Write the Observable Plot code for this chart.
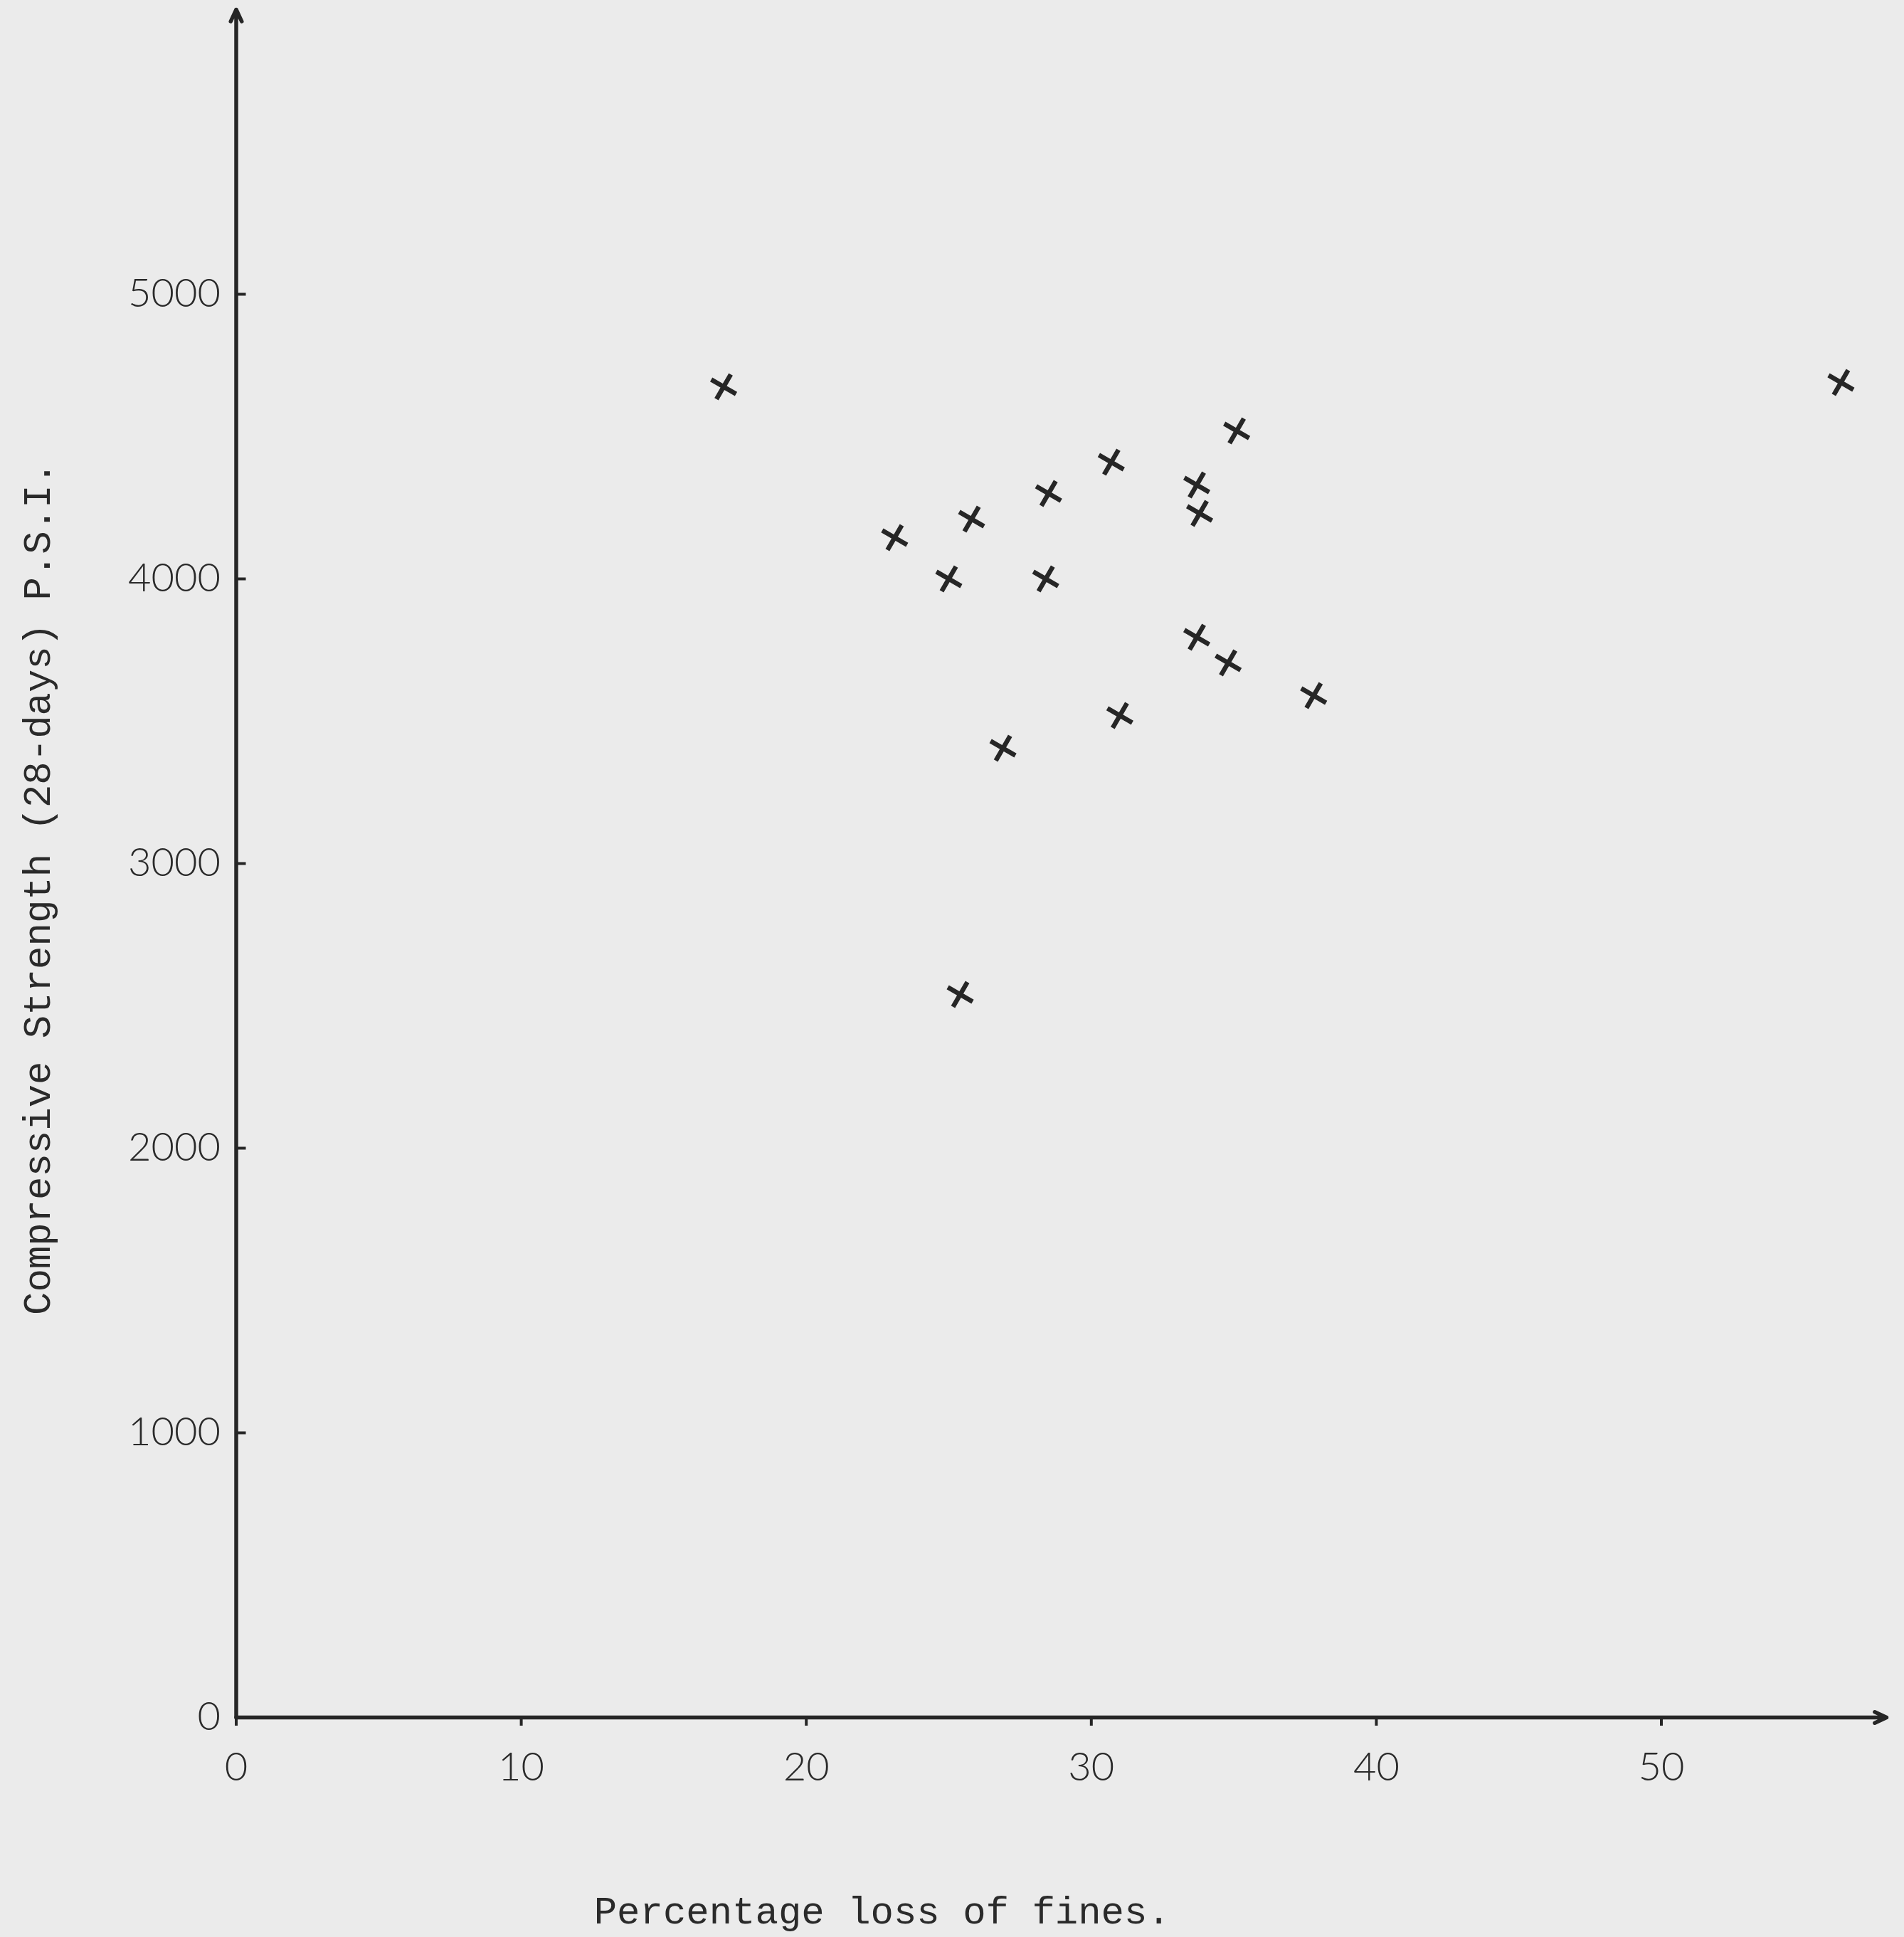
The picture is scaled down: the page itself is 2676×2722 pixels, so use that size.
<!DOCTYPE html>
<html>
<head>
<meta charset="utf-8">
<script src="https://cdn.jsdelivr.net/npm/d3@7"></script>
<script src="https://cdn.jsdelivr.net/npm/@observablehq/plot@0.6"></script>
<style>
  html, body { margin: 0; padding: 0; background: #ebebeb; }
  #chart svg { display: block; }
</style>
</head>
<body>
<div id="chart"></div>
<script>
// Data
const lossOfFines = [17.1, 56.3, 35.1, 30.7, 33.7, 28.5, 33.8, 25.8, 23.1, 25.0, 28.4, 33.7, 34.8, 37.8, 31.0, 26.9, 25.4];
const strength    = [4675, 4690, 4520, 4410, 4330, 4300, 4230, 4210, 4145, 4000, 4000, 3795, 3705, 3590, 3520, 3405, 2540];
const xTicks = [0, 10, 20, 30, 40, 50];
const yTicks = [0, 1000, 2000, 3000, 4000, 5000];
const xMax = 57.9;
const yMax = 6000;
const xTitle = "Percentage loss of fines.";
const yTitle = "Compressive Strength (28-days) P.S.I.";

const points = lossOfFines.map((x, i) => ({x, y: strength[i]}));
const axes = [
  {x1: 0, y1: 0, x2: 0, y2: yMax},
  {x1: 0, y1: 0, x2: xMax, y2: 0}
];

const ink = "#262626";
const tickFont = "Lato, 'Noto Sans', sans-serif";
const typeFont = "'Liberation Mono', 'DejaVu Sans Mono', monospace";

const chart = Plot.plot({
  width: 2676,
  height: 2722,
  marginLeft: 331.5,
  marginRight: 25,
  marginTop: 13,
  marginBottom: 309,
  x: {domain: [0, xMax]},
  y: {domain: [0, yMax]},
  style: {background: "#ebebeb", color: ink},
  marks: [
    Plot.axisY({ticks: yTicks, tickSize: -14, tickPadding: 36, strokeWidth: 4, fontSize: 56, fontFamily: tickFont, fontWeight: 300, fill: "#2a2a2a", label: null, tickFormat: d => String(d)}),
    Plot.axisX({ticks: xTicks, tickSize: 12, tickPadding: 37, strokeWidth: 4, fontSize: 56, fontFamily: tickFont, fontWeight: 300, fill: "#2a2a2a", label: null, tickFormat: d => String(d)}),
    Plot.arrow(axes, {x1: "x1", y1: "y1", x2: "x2", y2: "y2", stroke: ink, strokeWidth: 5.5, headLength: 5, headAngle: 50}),
    Plot.dot(points, {x: "x", y: "y", symbol: "times", r: 13, stroke: ink, strokeWidth: 6.5, rotate: -15}),
    Plot.text([xTitle], {text: d => d, frameAnchor: "bottom", textAnchor: "middle", lineAnchor: "middle", dx: -252, dy: 272, fontSize: 54, fontFamily: typeFont, fill: "#2a2a2a"}),
    Plot.text([yTitle], {text: d => d, frameAnchor: "left", textAnchor: "middle", lineAnchor: "middle", rotate: -90, dx: -279, dy: 35, fontSize: 54, fontFamily: typeFont, fill: "#2a2a2a"})
  ]
});
document.getElementById("chart").appendChild(chart);
</script>
</body>
</html>
